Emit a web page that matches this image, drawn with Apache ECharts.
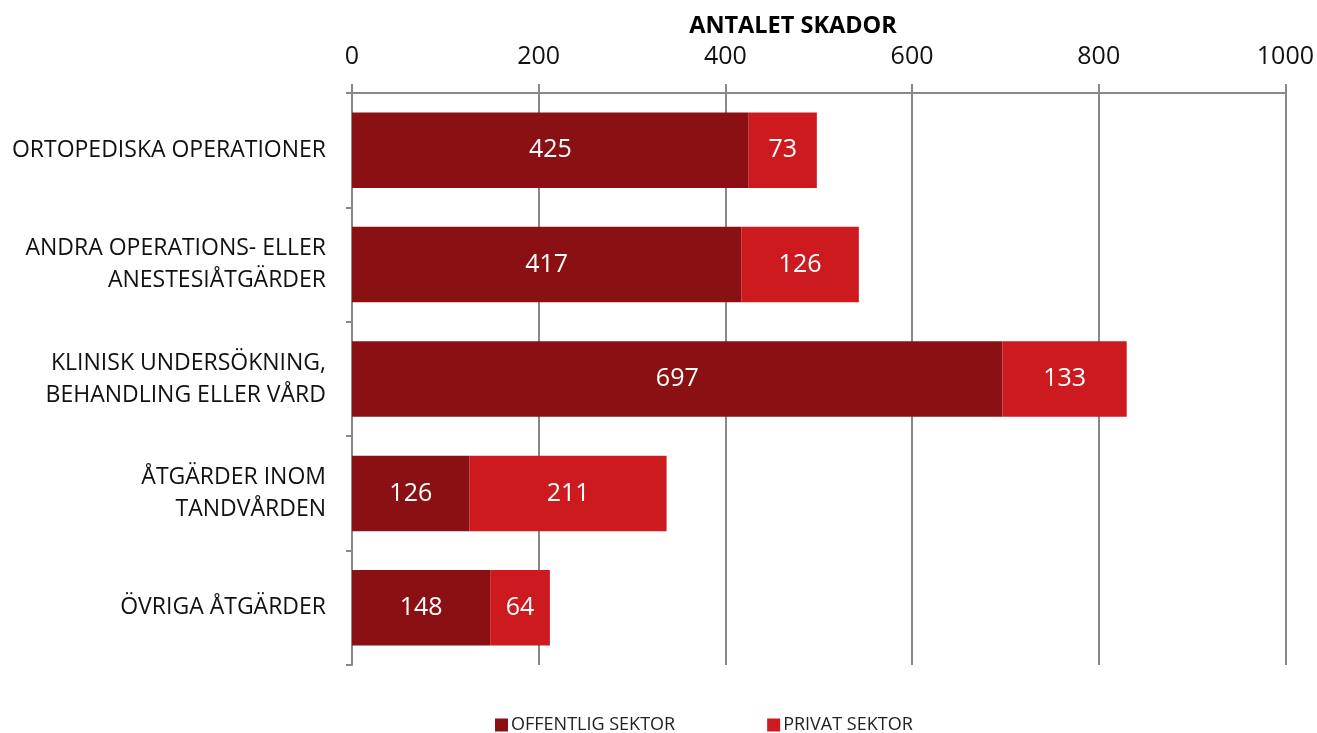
<!DOCTYPE html>
<html><head><meta charset="utf-8">
<script src="https://cdn.jsdelivr.net/npm/echarts@6/dist/echarts.min.js"></script>
<style>html,body{margin:0;padding:0;background:#fff}#c{width:1317px;height:733px}</style>
</head><body><div id="c"></div>
<script>
const categories = ["ORTOPEDISKA OPERATIONER", "ANDRA OPERATIONS- ELLER\nANESTESIÅTGÄRDER", "KLINISK UNDERSÖKNING,\nBEHANDLING ELLER VÅRD", "ÅTGÄRDER INOM\nTANDVÅRDEN", "ÖVRIGA ÅTGÄRDER"];
const offentlig = [425, 417, 697, 126, 148];
const privat = [73, 126, 133, 211, 64];
const seriesNames = ["OFFENTLIG SEKTOR", "PRIVAT SEKTOR"];
const axisTitle = "ANTALET SKADOR";

const font = '"Open Sans", "Noto Sans", sans-serif';
const chart = echarts.init(document.getElementById('c'), null, {renderer: 'canvas'});
const labelCfg = {show: true, position: 'inside', color: '#fff', fontSize: 25, fontFamily: font};
chart.setOption({
  animation: false,
  textStyle: {fontFamily: font},
  title: {text: axisTitle, left: 788, top: 9, textAlign: 'center',
    textStyle: {fontSize: 23.5, fontWeight: 'bold', color: '#000', fontFamily: font}},
  grid: {left: 352, right: 31, top: 93, bottom: 68, containLabel: false},
  legend: {bottom: -6, left: 490, itemGap: 92, itemWidth: 13, itemHeight: 13, icon: 'rect',
    textStyle: {fontSize: 18, color: '#222', fontFamily: font, padding: [0,0,0,-2]},
    data: seriesNames},
  xAxis: {type: 'value', position: 'top', min: 0, max: 1000, interval: 200,
    axisLine: {show: true, lineStyle: {color: '#888', width: 2}},
    axisTick: {show: true, length: 9, lineStyle: {color: '#888', width: 2}},
    axisLabel: {fontSize: 25, color: '#111', margin: 24, fontFamily: font, formatter: v => String(v)},
    splitLine: {show: true, lineStyle: {color: '#888', width: 2}}},
  yAxis: {type: 'category', data: categories, inverse: true,
    axisLine: {show: true, lineStyle: {color: '#888', width: 2}},
    axisTick: {show: true, length: 6, lineStyle: {color: '#888', width: 2}},
    axisLabel: {fontSize: 23, color: '#111', margin: 26, lineHeight: 32, align: 'right', fontFamily: font}},
  series: [
    {name: seriesNames[0], type: 'bar', stack: 't', data: offentlig, barWidth: '66%',
      itemStyle: {color: '#8B1014'}, label: labelCfg},
    {name: seriesNames[1], type: 'bar', stack: 't', data: privat, barWidth: '66%',
      itemStyle: {color: '#CC1A1E'}, label: labelCfg}
  ]
});
</script></body></html>
